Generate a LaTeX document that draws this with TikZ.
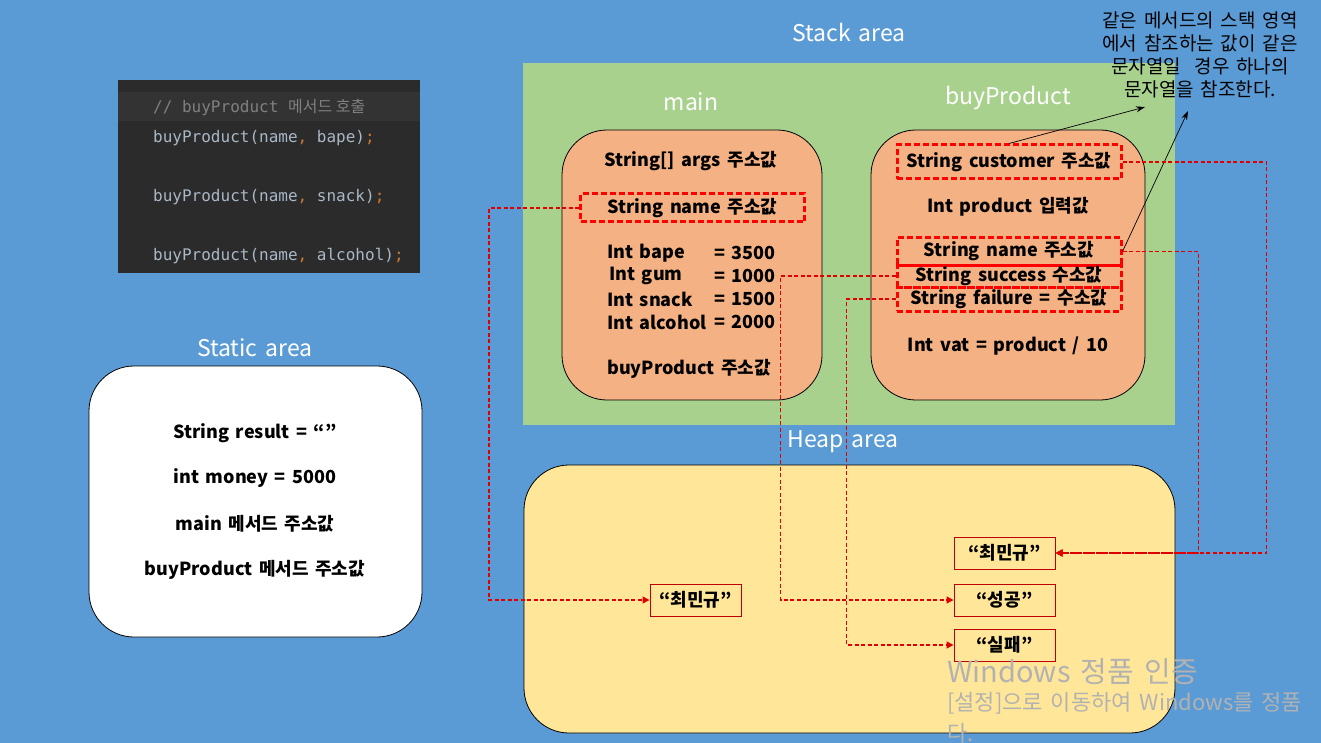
\documentclass[tikz,border=0pt]{standalone}
\usepackage{fontspec}
\setmainfont{Noto Sans CJK KR}[WordSpace=1.6]
\newfontfamily\codefont{DejaVu Sans Mono}
\newfontfamily\cjk{Noto Sans CJK KR}
\usetikzlibrary{arrows.meta,positioning}
\definecolor{bgblue}{HTML}{5B9BD5}
\definecolor{stackgreen}{HTML}{A9D18E}
\definecolor{frameorange}{HTML}{F4B183}
\definecolor{heapyellow}{HTML}{FFE699}
\definecolor{codebg}{HTML}{2B2B2B}
\definecolor{codehl}{HTML}{333333}
\definecolor{codetext}{HTML}{A9B7C6}
\definecolor{codepunct}{HTML}{CC7832}
\definecolor{codecomment}{HTML}{808080}
\definecolor{refred}{HTML}{E00000}
\definecolor{boxred}{HTML}{C00000}
\newcommand{\pc}[1]{\textcolor{codepunct}{#1}}
\begin{document}
\begin{tikzpicture}[x=1pt,y=-1pt]

\tikzset{area/.style={text=white,inner sep=0pt,font=\fontsize{23}{26}\selectfont},
frame/.style={draw=black,line width=0.8pt,rounded corners=45pt},
entry/.style={inner sep=0pt,font=\bfseries\fontsize{18}{20}\selectfont},
codestyle/.style={anchor=west,inner sep=0pt,text=codetext,font=\codefont\fontsize{16}{18}\selectfont},
refbox/.style={draw=red,line width=3pt,dash pattern=on 6pt off 3pt,minimum width=224pt,inner sep=0pt,font=\bfseries\fontsize{18}{20}\selectfont},
strbox/.style={draw=boxred,line width=1pt,minimum height=32pt,inner sep=0pt,font=\bfseries\fontsize{18}{20}\selectfont},
%red links from stack to heap
ref/.style={refred,line width=1.4pt,dash pattern=on 4pt off 2.5pt,-{Triangle[length=7pt,width=7pt]}},
note/.style={-{Stealth[length=9pt,width=6pt]},line width=0.7pt}}

\useasboundingbox (0,0) rectangle (1321,743);
\fill [bgblue] (0,0) rectangle (1321,743);

%code block
\fill [codebg] (118,80) rectangle (420,273);
\fill [codehl] (118,92) rectangle (420,121);
\node [codestyle,text=codecomment] (cmt) at (153,108) {// buyProduct {\cjk 메서드 호출}};
\node [codestyle] (call1) at (153,138) {buyProduct(name\pc{,} bape)\pc{;}};
\node [codestyle] (call2) at (153,197) {buyProduct(name\pc{,} snack)\pc{;}};
\node [codestyle] (call3) at (153,256) {buyProduct(name\pc{,} alcohol)\pc{;}};

%static area
\node [area] (statict) at (255,348) {Static area};
\draw [frame,fill=white] (89,366) rectangle (422,637);
\node [entry] (result) at (255,433) {String result = “”};
\node [entry] (money) at (255,478) {int money = 5000};
\node [entry] (mainaddr) at (255,524) {main 메서드 주소값};
\node [entry] (buyaddr) at (255,570) {buyProduct 메서드 주소값};

%stack area
\node [area] (stackt) at (849,32) {Stack area};
\fill [stackgreen] (523,63) rectangle (1175,425);
\node [area] (maint) at (691,102) {main};
\node [area] (buyt) at (1008,98) {buyProduct};

\draw [frame,fill=frameorange] (562,130) rectangle (822,400);
\node [entry] (args) at (691,161) {String[] args 주소값};
\node [refbox,minimum height=28pt] (mname) at (692.5,208) {String name 주소값};
\node [entry,anchor=west] (bape) at (607,253) {Int bape};
\node [entry,anchor=east] (bapev) at (776,253) {= 3500};
\node [entry,anchor=west] (gum) at (609,276) {Int gum};
\node [entry,anchor=east] (gumv) at (776,276) {= 1000};
\node [entry,anchor=west] (snack) at (607,299) {Int snack};
\node [entry,anchor=east] (snackv) at (776,299) {= 1500};
\node [entry,anchor=west] (alcohol) at (607,322) {Int alcohol};
\node [entry,anchor=east] (alcoholv) at (776,322) {= 2000};
\node [entry,anchor=west] (buyref) at (607,369) {buyProduct 주소값};

\draw [frame,fill=frameorange] (871,130) rectangle (1145,400);
\node [refbox,minimum height=34pt] (cust) at (1009,162) {String customer 주소값};
\node [entry] (product) at (1008,207) {Int product 입력값};
\node [refbox,minimum height=27pt] (bname) at (1009,251.5) {String name 주소값};
\node [refbox,minimum height=22pt] (succ) at (1009,276) {String success 수소값};
\node [refbox,minimum height=24pt] (fail) at (1009,299) {String failure = 수소값};
\node [entry] (vat) at (1008,346) {Int vat = product / 10};

%remark on shared strings
\node [align=center,inner sep=0pt,font=\fontsize{19}{23}\selectfont] (remark) at (1200,55)
  {같은 메서드의 스택 영역\\에서 참조하는 값이 같은\\문자열일~~경우 하나의\\문자열을 참조한다.};
\coordinate (remarkL) at (1145,107);
\coordinate (remarkR) at (1188,111);
\draw [note] (cust.north) -- (remarkL);
\draw [note] (bname.east) -- (remarkR);

%heap area
\node [area] (heapt) at (843,442) {Heap area};
\draw [frame,fill=heapyellow] (524,465) rectangle (1175,733);
\node [strbox,minimum width=101pt] (hcust) at (1004.5,553) {“최민규”};
\node [strbox,minimum width=91pt] (hname) at (695.5,600) {“최민규”};
\node [strbox,minimum width=101pt] (hsucc) at (1004.5,600) {“성공”};
\node [strbox,minimum width=101pt] (hfail) at (1004.5,645) {“실패”};

\draw [ref] (mname.west) -- ++(-90,0) |- (hname.west);
\draw [ref] (cust.east) -- ++(144,0) |- (hcust.east);
\draw [ref] (bname.east) -- ++(76,0) |- (hcust.east);
\draw [ref] (succ.west) -- ++(-115,0) |- (hsucc.west);
\draw [ref] (fail.west) -- ++(-49,0) |- (hfail.west);

%watermark
\begin{scope}
\clip (0,0) rectangle (1321,743);
\node [anchor=west,inner sep=0pt,text=black!30,font=\fontsize{29}{32}\selectfont] (wm1) at (947,672) {Windows 정품 인증};
\node [anchor=west,inner sep=0pt,text=black!30,font=\fontsize{22}{24}\selectfont] (wm2) at (947,703) {[설정]으로 이동하여 Windows를 정품};
\node [anchor=west,inner sep=0pt,text=black!30,font=\fontsize{22}{24}\selectfont] (wm3) at (947,733) {다.};
\end{scope}

\end{tikzpicture}
\end{document}
